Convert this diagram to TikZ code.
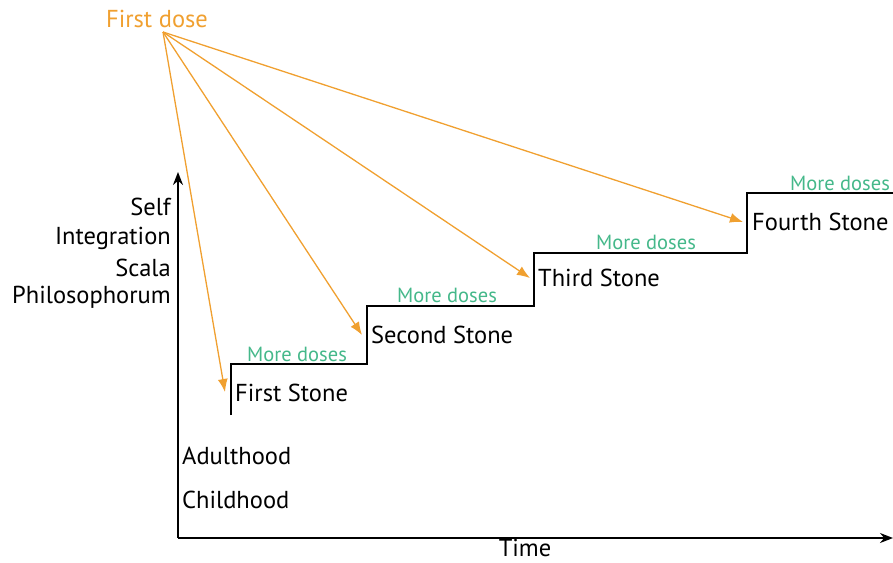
\documentclass[tikz,border=0pt]{standalone}
\usepackage{fontspec}
\setmainfont{PT Sans}
\usetikzlibrary{arrows.meta}
\definecolor{doseorange}{HTML}{F0A030}
\definecolor{moregreen}{HTML}{45B88A}
\begin{document}
\begin{tikzpicture}[x=1pt, y=-1pt, every node/.style={font=\fontsize{24.5}{28}\selectfont, inner sep=0pt}, >={Stealth[length=13pt, width=10pt]}]
	\useasboundingbox (0,0) rectangle (893,562);
	% axes
	\coordinate (o) at (178,538);
	\coordinate (ytop) at (178,172);
	\coordinate (xend) at (893,538);
	\draw[->, line width=1.8pt] (o) -- (ytop);
	\draw[->, line width=1.8pt] (o) -- (xend);
	\node[anchor=base] (time) at (525,556) {Time};
	\node[anchor=east] (self) at (171,207) {Self};
	\node[anchor=east] (integ) at (171,238) {Integration};
	\node[anchor=east] (scala) at (171,268) {Scala};
	\node[anchor=east] (philo) at (171,297) {Philosophorum};
	\node[anchor=west] (adult) at (182,456) {Adulthood};
	\node[anchor=west] (child) at (182,500) {Childhood};
	% staircase
	\draw[line width=1.8pt] (231,415) -- (231,364) -- (367,364) -- (367,306) -- (534,306) -- (534,253) -- (747,253) -- (747,193) -- (893,193);
	\node[anchor=west] (s1) at (235,393) {First Stone};
	\node[anchor=west] (s2) at (371,335) {Second Stone};
	\node[anchor=west] (s3) at (538,278) {Third Stone};
	\node[anchor=west] (s4) at (752,222) {Fourth Stone};
	\foreach \x/\y in {297/354, 447/295, 646/242, 840/183}
		\node[moregreen, font=\fontsize{20.5}{24}\selectfont] at (\x,\y) {More doses};
	% doses
	\node[doseorange] (dose) at (157,19) {First dose};
	\coordinate (src) at (163,32);
	\coordinate (t1) at (225,392);
	\coordinate (t2) at (362,335);
	\coordinate (t3) at (530,278);
	\coordinate (t4) at (743,222);
	\foreach \t in {t1,t2,t3,t4}
		\draw[->, doseorange, line width=1.3pt, >={Latex[length=13pt, width=10pt]}] (src) -- (\t);
\end{tikzpicture}
\end{document}
